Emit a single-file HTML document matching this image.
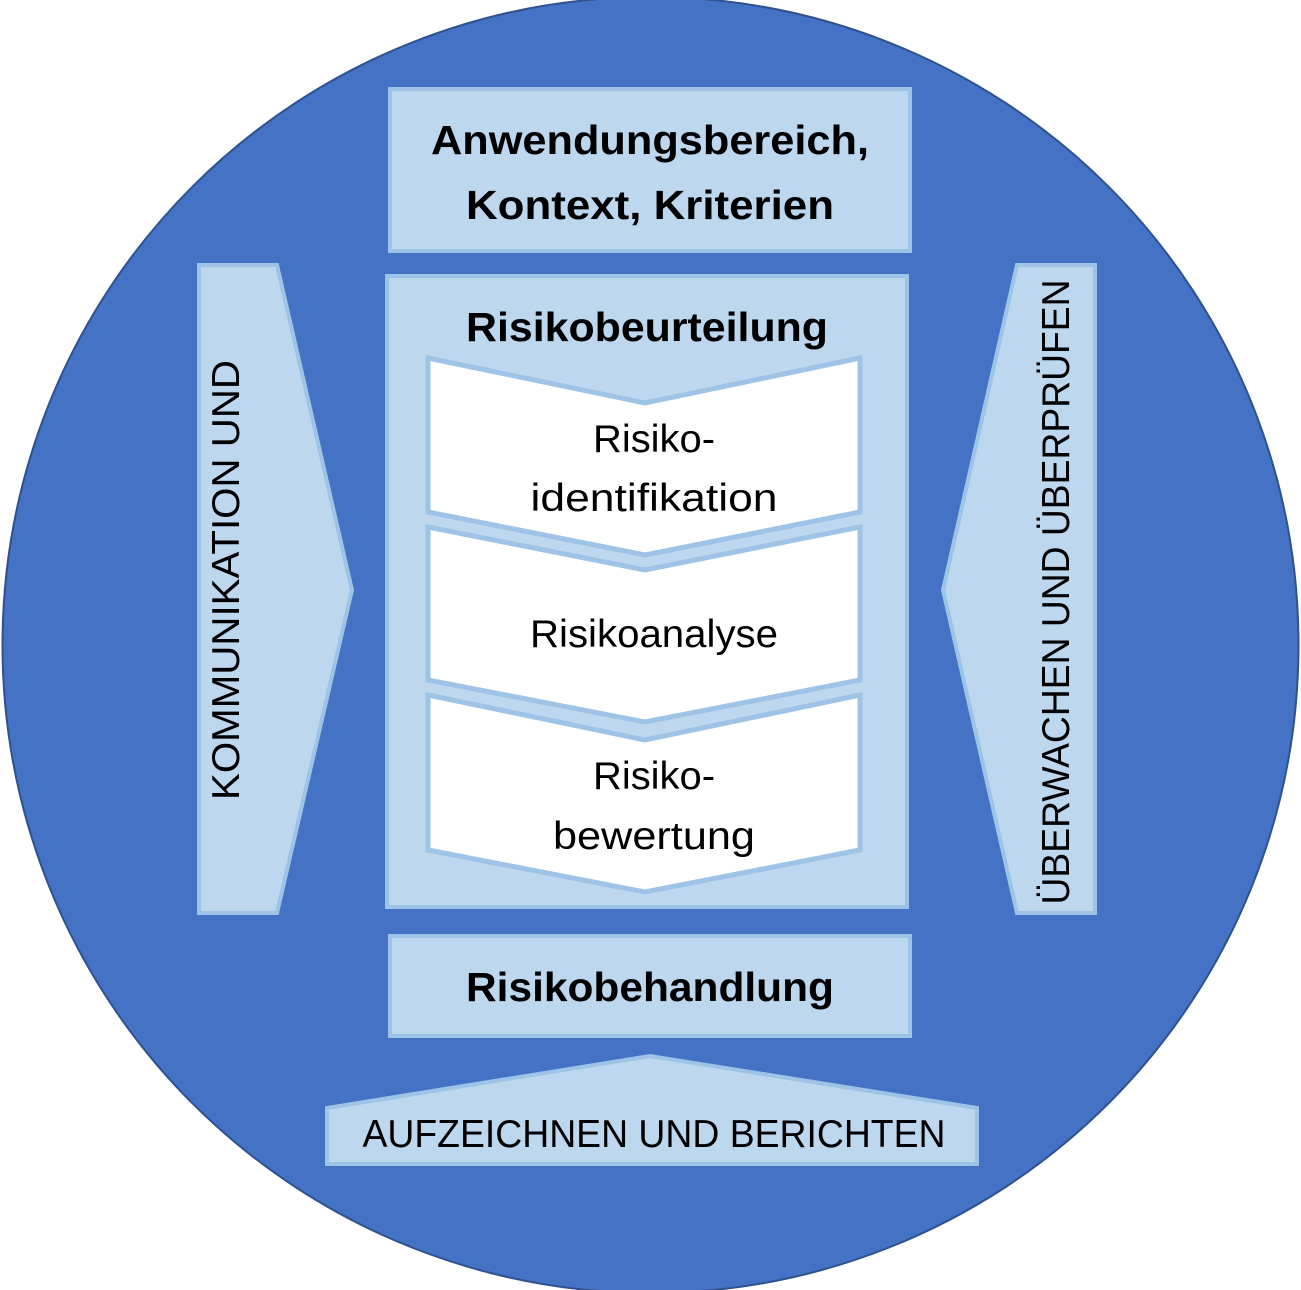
<!DOCTYPE html>
<html><head><meta charset="utf-8"><style>html,body{margin:0;padding:0;background:#fff}svg{display:block}</style></head>
<body>
<svg width="1301" height="1290" viewBox="0 0 1301 1290" xmlns="http://www.w3.org/2000/svg" font-family="'Liberation Sans', 'DejaVu Sans', sans-serif">
<circle cx="650.5" cy="645" r="648" fill="#4472C4" stroke="#2F528F" stroke-width="2"/>
<g fill="#BDD7EE" stroke="#9DC3E6" stroke-width="4">
<rect x="390" y="89" width="520" height="162"/>
<rect x="387" y="276" width="520" height="631"/>
<rect x="390" y="936" width="520" height="100"/>
<polygon points="199,265 277,265 352,590 277,913 199,913"/>
<polygon points="1095,265 1017,265 943,590 1017,913 1095,913"/>
<polygon points="327,1108 650,1056 977,1108 977,1164 327,1164"/>
</g>
<g fill="#fff" stroke="#9DC3E6" stroke-width="5">
<polygon points="428,358 645,403 860,358 860,512 645,555 428,512"/>
<polygon points="428,527 645,570 860,527 860,680 645,722 428,680"/>
<polygon points="428,695 645,740 860,695 860,850 645,892 428,850"/>
</g>
<g text-anchor="middle" fill="#000">
<g font-weight="bold" font-size="41">
<text x="650" y="154" textLength="438" lengthAdjust="spacingAndGlyphs">Anwendungsbereich,</text>
<text x="650" y="219" textLength="368" lengthAdjust="spacingAndGlyphs">Kontext, Kriterien</text>
<text x="647" y="341" textLength="362" lengthAdjust="spacingAndGlyphs">Risikobeurteilung</text>
<text x="650" y="1001" textLength="368" lengthAdjust="spacingAndGlyphs">Risikobehandlung</text>
</g>
<g font-size="39">
<text x="654" y="452" textLength="122" lengthAdjust="spacingAndGlyphs">Risiko-</text>
<text x="654" y="511" textLength="247" lengthAdjust="spacingAndGlyphs">identifikation</text>
<text x="654" y="647" textLength="248" lengthAdjust="spacingAndGlyphs">Risikoanalyse</text>
<text x="654" y="789" textLength="122" lengthAdjust="spacingAndGlyphs">Risiko-</text>
<text x="654" y="849" textLength="202" lengthAdjust="spacingAndGlyphs">bewertung</text>
<text x="654" y="1147" textLength="583" lengthAdjust="spacingAndGlyphs">AUFZEICHNEN UND BERICHTEN</text>
<text transform="translate(239,580) rotate(-90)" textLength="440" lengthAdjust="spacingAndGlyphs">KOMMUNIKATION UND</text>
<text transform="translate(1069,592) rotate(-90)" textLength="625" lengthAdjust="spacingAndGlyphs">ÜBERWACHEN UND ÜBERPRÜFEN</text>
</g>
</g>
</svg>
</body></html>
